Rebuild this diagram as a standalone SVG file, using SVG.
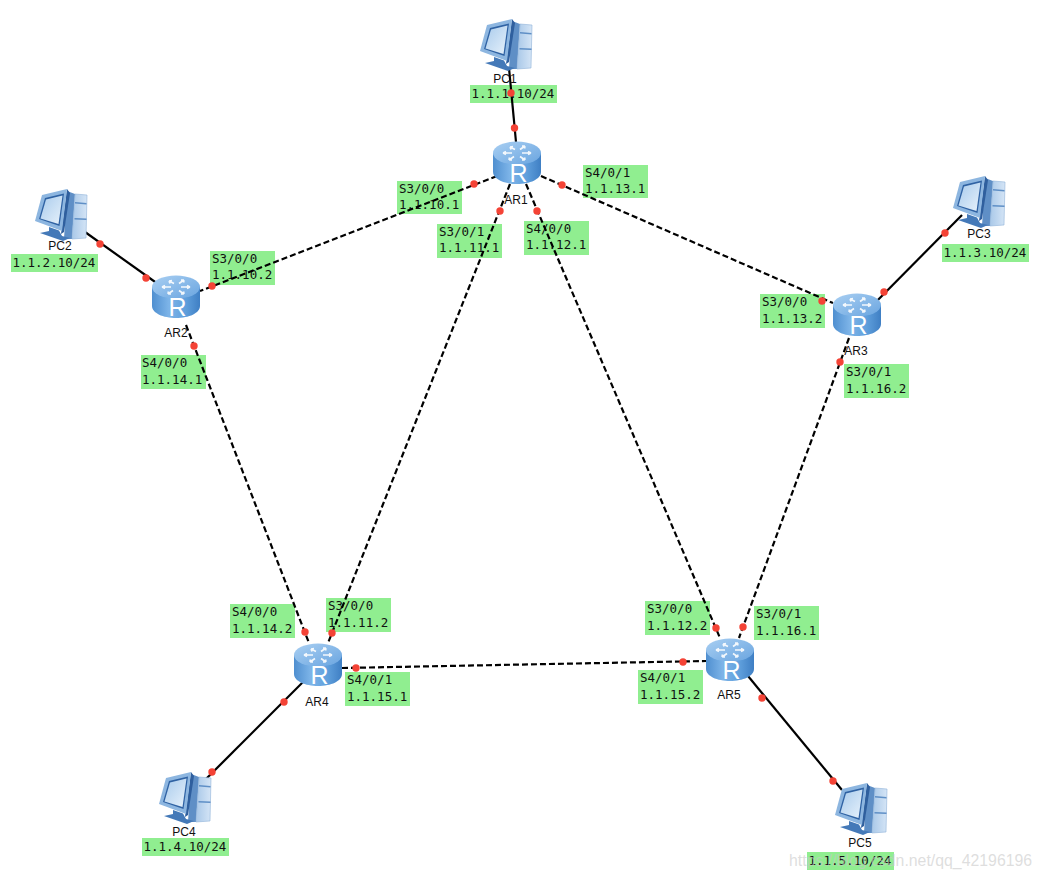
<svg xmlns="http://www.w3.org/2000/svg" width="1042" height="880" viewBox="0 0 1042 880">
<style>
.bg{fill:#fff}
.lb{fill:#90ee90}
.m{font-family:"DejaVu Sans Mono","Liberation Mono",monospace;font-size:12.5px;fill:#111}
.n{font-family:"Liberation Sans",Arial,sans-serif;font-size:12px;fill:#111;text-anchor:middle}
.solid{stroke:#000;stroke-width:2.2;fill:none}
.dash{stroke:#000;stroke-width:2.2;fill:none;stroke-dasharray:6 3}
.dot{fill:#f44336}
.wm{font-family:"Liberation Sans",Arial,sans-serif;font-size:15.85px;fill:#c8c8c8;fill-opacity:.6}
</style>
<defs>
<linearGradient id="rs" x1="0" x2="1" y1="0" y2="0"><stop offset="0" stop-color="#4f8fd0"/><stop offset=".35" stop-color="#7db4e8"/><stop offset=".7" stop-color="#5f9fdc"/><stop offset="1" stop-color="#3f7fc4"/></linearGradient>
<linearGradient id="rt" x1="0" x2="1" y1="0" y2="1"><stop offset="0" stop-color="#a9cff2"/><stop offset="1" stop-color="#6aa5e0"/></linearGradient>
<linearGradient id="sc" x1="0" x2="1" y1="0" y2="1"><stop offset="0" stop-color="#a9cbec"/><stop offset="1" stop-color="#e6f1fb"/></linearGradient>
<linearGradient id="tw" x1="0" x2="1" y1="0" y2="0"><stop offset="0" stop-color="#a9c8e8"/><stop offset="1" stop-color="#d5e5f6"/></linearGradient>
<g id="router">
<path d="M0 12V31C0 38 11 43 24 43S48 38 48 31V12Z" fill="url(#rs)"/>
<ellipse cx="24" cy="12" rx="24" ry="11.500" fill="url(#rt)"/>
<g fill="none" stroke="#fff" stroke-width="1.700" opacity=".9">
<path d="M17 6L22 8.500M17 6l1 2.500M17 6l3-.5"/>
<path d="M32 5L27 8.500M32 5l-3 .2M32 5l-.5 2.500"/>
<path d="M10 12H19M10 12l3-1.500M10 12l3 1.500"/>
<path d="M38 12H29M38 12l-3-1.500M38 12l-3 1.500"/>
<path d="M16 19L21 15.500M16 19l3-.2M16 19l.5-2.500"/>
<path d="M32 19L27 15.500M32 19l-3-.2M32 19l-.5-2.500"/>
</g>
<text x="25.500" y="41" text-anchor="middle" style="font-family:'Liberation Sans',Arial,sans-serif;font-size:25px;fill:#fff">R</text>
</g>
<g id="pc">
<path d="M33 2L41 5L38 50L30 50Z" fill="#5f8fc6"/>
<path d="M41 5L53 6L52 49L38 50Z" fill="url(#tw)" stroke="#8fb2d8" stroke-width=".6"/>
<path d="M41 13L52.500 14V15.500L41 14.500ZM40.500 29L52.500 29.500V31L40.500 30.500Z" fill="#5f8fc6"/>
<path d="M33 0L36 4L30 43L27 45Z" fill="#2f5f9e"/>
<path d="M1 32L8 6L33 0L28 42Z" fill="#8db6e0"/>
<path d="M5 30L11 9L30 4.500L25.500 37Z" fill="#2f62a3"/>
<path d="M6.500 29.500L12 10.500L28.500 6.500L24.500 35Z" fill="url(#sc)"/>
<path d="M15 38L25 41.500L28 47L36 49L29 52L6 44L15 42Z" fill="#4479b8"/>
</g>
</defs>
<rect class="bg" width="1042" height="880"/>

<g id="labels">
<g class="lb">
<rect x="470" y="85" width="87" height="18"/><rect x="11" y="254" width="87" height="18"/><rect x="942" y="244" width="87" height="18"/><rect x="142" y="838" width="87" height="18"/><rect x="807" y="852" width="87" height="18"/>
<rect x="397" y="181" width="65" height="33"/><rect x="583" y="165" width="65" height="33"/><rect x="437" y="224" width="65" height="34"/><rect x="524" y="221" width="65" height="34"/>
<rect x="210" y="251" width="65" height="34"/><rect x="141" y="355" width="65" height="34"/><rect x="760" y="294" width="65" height="34"/><rect x="844" y="364" width="65" height="34"/>
<rect x="230" y="604" width="65" height="34"/><rect x="326" y="598" width="65" height="34"/><rect x="345" y="672" width="65" height="34"/>
<rect x="645" y="601" width="65" height="34"/><rect x="754" y="606" width="65" height="34"/><rect x="638" y="670" width="65" height="34"/>
</g>
<g class="m">
<text x="471.500" y="98">1.1.1.10/24</text><text x="12.500" y="267">1.1.2.10/24</text><text x="943.500" y="257">1.1.3.10/24</text><text x="143.500" y="851">1.1.4.10/24</text><text x="808.500" y="865">1.1.5.10/24</text>
<text x="399" y="193">S3/0/0</text><text x="399" y="209">1.1.10.1</text>
<text x="585" y="177">S4/0/1</text><text x="585" y="193">1.1.13.1</text>
<text x="439" y="236">S3/0/1</text><text x="439" y="252">1.1.11.1</text>
<text x="526" y="233">S4/0/0</text><text x="526" y="249">1.1.12.1</text>
<text x="212" y="263">S3/0/0</text><text x="212" y="279">1.1.10.2</text>
<text x="142" y="367">S4/0/0</text><text x="142" y="384">1.1.14.1</text>
<text x="762" y="306">S3/0/0</text><text x="762" y="323">1.1.13.2</text>
<text x="846" y="376">S3/0/1</text><text x="846" y="393">1.1.16.2</text>
<text x="232" y="616">S4/0/0</text><text x="232" y="633">1.1.14.2</text>
<text x="328" y="610">S3/0/0</text><text x="328" y="627">1.1.11.2</text>
<text x="347" y="684">S4/0/1</text><text x="347" y="701">1.1.15.1</text>
<text x="647" y="613">S3/0/0</text><text x="647" y="630">1.1.12.2</text>
<text x="756" y="618">S3/0/1</text><text x="756" y="635">1.1.16.1</text>
<text x="640" y="682">S4/0/1</text><text x="640" y="699">1.1.15.2</text>
</g>
</g>

<g id="connectors">
<path class="solid" d="M509 68L516 142"/>
<path class="solid" d="M85 232L165 289"/>
<path class="solid" d="M962 215L868 310"/>
<path class="solid" d="M305 680L205 780"/>
<path class="solid" d="M748 676L842 790"/>
<path class="dash" d="M497 176L200 291"/>
<path class="dash" d="M541 176L833 303"/>
<path class="dash" d="M510 184L328 643"/>
<path class="dash" d="M526 184L720 638"/>
<path class="dash" d="M186 325L309 643"/>
<path class="dash" d="M849 338L739 638"/>
<path class="dash" d="M342 668L706 661"/>
</g>

<g id="AR1"><use href="#router" x="493" y="141"/><text class="n" x="516" y="204">AR1</text></g>
<g id="AR2"><use href="#router" x="152" y="275"/><text class="n" x="176" y="337">AR2</text></g>
<g id="AR3"><use href="#router" x="833" y="293"/><text class="n" x="856" y="355">AR3</text></g>
<g id="AR4"><use href="#router" x="294" y="643"/><text class="n" x="317" y="706">AR4</text></g>
<g id="AR5"><use href="#router" x="706" y="638"/><text class="n" x="729" y="699">AR5</text></g>
<g id="PC1"><use href="#pc" x="479" y="19"/><text class="n" x="505" y="83">PC1</text></g>
<g id="PC2"><use href="#pc" x="34" y="189"/><text class="n" x="60" y="250">PC2</text></g>
<g id="PC3"><use href="#pc" x="952" y="176"/><text class="n" x="979" y="238">PC3</text></g>
<g id="PC4"><use href="#pc" x="158" y="772"/><text class="n" x="184" y="836">PC4</text></g>
<g id="PC5"><use href="#pc" x="834" y="783"/><text class="n" x="860" y="847">PC5</text></g>

<g id="dots" class="dot">
<circle cx="511" cy="93" r="3.700"/><circle cx="514.500" cy="128" r="3.700"/>
<circle cx="474" cy="184" r="3.700"/><circle cx="212" cy="286" r="3.700"/>
<circle cx="562" cy="185" r="3.700"/><circle cx="822" cy="301" r="3.700"/>
<circle cx="500" cy="211" r="3.700"/><circle cx="332" cy="633" r="3.700"/>
<circle cx="537" cy="211" r="3.700"/><circle cx="716" cy="628" r="3.700"/>
<circle cx="194" cy="346" r="3.700"/><circle cx="305" cy="632" r="3.700"/>
<circle cx="840" cy="362" r="3.700"/><circle cx="743" cy="627" r="3.700"/>
<circle cx="356" cy="668" r="3.700"/><circle cx="683" cy="662" r="3.700"/>
<circle cx="100" cy="244" r="3.700"/><circle cx="146" cy="278" r="3.700"/>
<circle cx="945" cy="233" r="3.700"/><circle cx="884" cy="292" r="3.700"/>
<circle cx="284" cy="702" r="3.700"/><circle cx="212" cy="772" r="3.700"/>
<circle cx="762" cy="698" r="3.700"/><circle cx="833" cy="781" r="3.700"/>
</g>
<text class="wm" x="789" y="866">https://blog.csdn.net/qq_42196196</text>
</svg>
